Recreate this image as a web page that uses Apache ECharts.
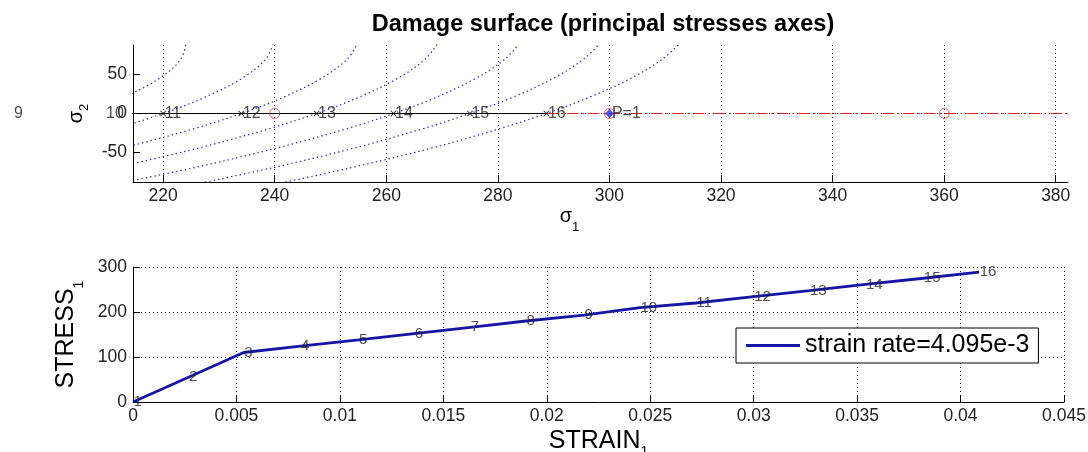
<!DOCTYPE html>
<html>
<head>
<meta charset="utf-8">
<script src="https://cdn.jsdelivr.net/npm/echarts@6/dist/echarts.min.js"></script>
<style>
  html, body { margin: 0; padding: 0; background: #ffffff; }
  #chart { width: 1088px; height: 452px; }
</style>
</head>
<body>
<div id="chart"></div>
<script>
// ---- loading steps (uniaxial tension, sigma2 = 0) ----
const stepLabels = ['1','2','3','4','5','6','7','8','9','10','11','12','13','14','15','16'];
const strain = [0, 0.00268, 0.00535, 0.0081, 0.0109, 0.0136, 0.0163, 0.0190, 0.0218, 0.0245, 0.0272, 0.0300, 0.0327, 0.0354, 0.0382, 0.0409];
const stress = [0, 55, 110, 124, 138, 152, 166, 180, 193, 209.5, 220, 234, 247.5, 261.3, 275, 288.7];
const sigma2 = [0, 0, 0, 0, 0, 0, 0, 0, 0, 0, 0, 0, 0, 0, 0, 0];

// ---- damage surfaces after steps 10..16, as [sigma1, sigma2] pairs ----
const surface10 = [[205.5, 0], [212.7, 20], [219.3, 45], [223.2, 70], [224.2, 95]];
const surface11 = [[198.1, -45], [211.2, -20], [220, 0], [227.2, 20], [234.1, 45], [238.4, 70], [240.0, 95]];
const surface12 = [[197.0, -70], [212.3, -45], [225.3, -20], [234, 0], [241.3, 20], [248.3, 45], [253.0, 70], [255.2, 95]];
const surface13 = [[193.7, -95], [211.0, -70], [226.0, -45], [238.8, -20], [247.5, 0], [254.8, 20], [262.0, 45], [267.0, 70], [269.7, 95]];
const surface14 = [[208.4, -95], [225.3, -70], [240.0, -45], [252.7, -20], [261.3, 0], [268.7, 20], [276.0, 45], [281.3, 70], [284.4, 95]];
const surface15 = [[222.9, -95], [239.4, -70], [253.9, -45], [266.4, -20], [275, 0], [282.4, 20], [289.9, 45], [295.4, 70], [298.9, 95]];
const surface16 = [[237.3, -95], [253.5, -70], [267.8, -45], [280.1, -20], [288.7, 0], [296.1, 20], [303.8, 45], [309.5, 70], [313.3, 95]];
const surfaces = [surface10, surface11, surface12, surface13, surface14, surface15, surface16];

// ---- trial path beyond the last step ----
const trialSigma1 = [288.7, 400];
const trialSigma2 = [0, 0];
const circleSigma1 = [240, 300, 360];
const circleSigma2 = [0, 0, 0];
const pointP = [300, 0];
const pointPLabel = 'P=1';

// ---- axes ----
const topXTicks = [220, 240, 260, 280, 300, 320, 340, 360, 380];
const topYTicks = [-50, 0, 50];
const legendText = 'strain rate=4.095e-3';
const titleText = 'Damage surface (principal stresses axes)';

const FONT = 'Liberation Sans, Arial, Helvetica, sans-serif';
const gridDots = { color: '#1a1a1a', width: 1, type: [1, 3] };
const tickFont = { fontFamily: FONT, fontSize: 17.5, color: '#222' };

const zip = (a, b) => a.map((v, i) => [v, b[i]]);
const xMarker = 'path://M0,1L1,0L5,4L9,0L10,1L6,5L10,9L9,10L5,6L1,10L0,9L4,5Z';

const chart = echarts.init(document.getElementById('chart'), null, { renderer: 'canvas' });

// vertical dotted grid of the sigma1 axis, one line per tick value
const sigma1Grid = {
  silent: true, symbol: 'none', animation: false,
  label: { show: false },
  lineStyle: gridDots,
  emphasis: { disabled: true },
  data: topXTicks.map(v => ({ xAxis: v }))
};

const surfaceSeries = surfaces.map((s, i) => ({
  type: 'line', xAxisIndex: 0, yAxisIndex: 0, data: s,
  showSymbol: false, symbol: 'none', smooth: 0.35, silent: true, clip: true,
  lineStyle: { color: '#2222c8', width: 1.2, type: [1.4, 3] }, z: 2,
  markLine: i === 0 ? sigma1Grid : undefined
}));

const subName = (size, subSize, lh) => ({
  s: { fontFamily: FONT, fontSize: size, color: '#000', verticalAlign: 'top', lineHeight: lh },
  b: { fontFamily: FONT, fontSize: subSize, color: '#000', verticalAlign: 'bottom', lineHeight: lh }
});

const option = {
  animation: false,
  backgroundColor: '#ffffff',
  textStyle: { fontFamily: FONT },
  title: {
    text: titleText, left: 598, top: 8, textAlign: 'center',
    textStyle: { fontFamily: FONT, fontWeight: 'bold', fontSize: 23.5, color: '#000' }
  },
  legend: {
    left: 736, top: 328, orient: 'horizontal',
    data: [legendText], icon: 'rect',
    backgroundColor: '#ffffff', borderColor: '#000', borderWidth: 1,
    padding: [5, 9, 5, 10], itemWidth: 54, itemHeight: 3, itemGap: 5,
    textStyle: { fontFamily: FONT, fontSize: 25, color: '#000' }
  },
  grid: [
    { left: 133, right: 20, top: 45, height: 137, outerBoundsMode: 'none', containLabel: false },
    { left: 133, right: 24, top: 267, height: 135, outerBoundsMode: 'none', containLabel: false }
  ],
  xAxis: [
    {
      gridIndex: 0, type: 'value', min: 214.6, max: 382.2, splitNumber: 8,
      name: '{s|σ}{b|1}', nameLocation: 'middle', nameGap: 24,
      nameTextStyle: { padding: [0, 62, 0, 0], rich: subName(20, 13, 28) },
      axisLine: { show: true, onZero: false, lineStyle: { color: '#000', width: 1 } },
      axisTick: { show: true, inside: true, length: 7, customValues: topXTicks, lineStyle: { color: '#000' } },
      axisLabel: Object.assign({ customValues: topXTicks, margin: 5 }, tickFont),
      splitLine: { show: false }
    },
    {
      gridIndex: 1, type: 'value', min: 0, max: 0.045, interval: 0.005,
      name: '{s|STRAIN}{b|1}', nameLocation: 'middle', nameGap: 27,
      nameTextStyle: { rich: subName(25, 14, 30) },
      axisLine: { show: true, onZero: false, lineStyle: { color: '#000', width: 1 } },
      axisTick: { show: true, inside: true, length: 7, lineStyle: { color: '#000' } },
      axisLabel: Object.assign({ margin: 5 }, tickFont),
      splitLine: { show: true, showMinLine: false, lineStyle: gridDots }
    }
  ],
  yAxis: [
    {
      gridIndex: 0, type: 'value', min: -88, max: 88, splitNumber: 3,
      name: '{s|σ}{b|2}', nameLocation: 'middle', nameGap: 40, nameRotate: 90,
      nameTextStyle: { rich: subName(20, 13, 24) },
      axisLine: { show: true, onZero: false, lineStyle: { color: '#000', width: 1 } },
      axisTick: { show: true, inside: true, length: 7, customValues: topYTicks, lineStyle: { color: '#000' } },
      axisLabel: Object.assign({ customValues: topYTicks, margin: 6 }, tickFont),
      splitLine: { show: true, customValues: topYTicks, showMinLine: false, showMaxLine: false, lineStyle: gridDots }
    },
    {
      gridIndex: 1, type: 'value', min: 0, max: 300, interval: 100,
      name: '{s|STRESS}{b|1}', nameLocation: 'middle', nameGap: 47, nameRotate: 90,
      nameTextStyle: { rich: subName(25, 14, 32) },
      axisLine: { show: true, onZero: false, lineStyle: { color: '#000', width: 1 } },
      axisTick: { show: true, inside: true, length: 7, lineStyle: { color: '#000' } },
      axisLabel: Object.assign({ margin: 6 }, tickFont),
      splitLine: { show: true, showMinLine: false, lineStyle: gridDots }
    }
  ],
  series: [
    ...surfaceSeries,
    {
      // trial continuation beyond the last converged step
      type: 'line', xAxisIndex: 0, yAxisIndex: 0, data: zip(trialSigma1, trialSigma2),
      symbol: 'none', silent: true, clip: true, z: 3,
      lineStyle: { color: '#e01c1c', width: 1.1, type: [11, 4, 2, 4] }
    },
    {
      // converged stress path
      type: 'line', xAxisIndex: 0, yAxisIndex: 0, data: zip(stress, sigma2),
      symbol: xMarker, symbolSize: 6, showSymbol: true, silent: true, clip: true, z: 4,
      itemStyle: { color: '#111' },
      lineStyle: { color: '#000', width: 1.2 }
    },
    {
      type: 'scatter', xAxisIndex: 0, yAxisIndex: 0, data: zip(circleSigma1, circleSigma2),
      symbol: 'circle', symbolSize: 10, silent: true, z: 5,
      itemStyle: { color: 'rgba(0,0,0,0)', borderColor: '#d83a3a', borderWidth: 1 }
    },
    {
      type: 'scatter', xAxisIndex: 0, yAxisIndex: 0, data: [pointP],
      symbol: 'diamond', symbolSize: 9, silent: true, z: 6,
      itemStyle: { color: '#2626e0' },
      label: { show: true, position: 'right', distance: -2, formatter: pointPLabel,
               fontFamily: FONT, fontSize: 16, color: '#222' }
    },
    {
      // step numbers along the stress path
      type: 'scatter', xAxisIndex: 0, yAxisIndex: 0, clip: false, silent: true, z: 7,
      data: stress.map((s, i) => ({ value: [s, sigma2[i]], name: stepLabels[i] })),
      symbolSize: 1, itemStyle: { color: 'rgba(0,0,0,0)' },
      label: { show: true, position: 'right', distance: 1, formatter: p => p.name,
               fontFamily: FONT, fontSize: 16, color: '#1a1a1a' }
    },
    {
      name: legendText,
      type: 'line', xAxisIndex: 1, yAxisIndex: 1, data: zip(strain, stress),
      symbol: 'none', showSymbol: false, silent: true, z: 3,
      lineStyle: { color: '#1616a6', width: 2.8 }, itemStyle: { color: '#1616a6' }
    },
    {
      type: 'scatter', xAxisIndex: 1, yAxisIndex: 1, clip: false, silent: true, z: 7,
      data: strain.map((e, i) => ({ value: [e, stress[i]], name: stepLabels[i] })),
      symbolSize: 1, itemStyle: { color: 'rgba(0,0,0,0)' },
      label: { show: true, position: 'right', distance: 0, formatter: p => p.name,
               fontFamily: FONT, fontSize: 15, color: '#222' }
    }
  ]
};

chart.setOption(option);
</script>
</body>
</html>
